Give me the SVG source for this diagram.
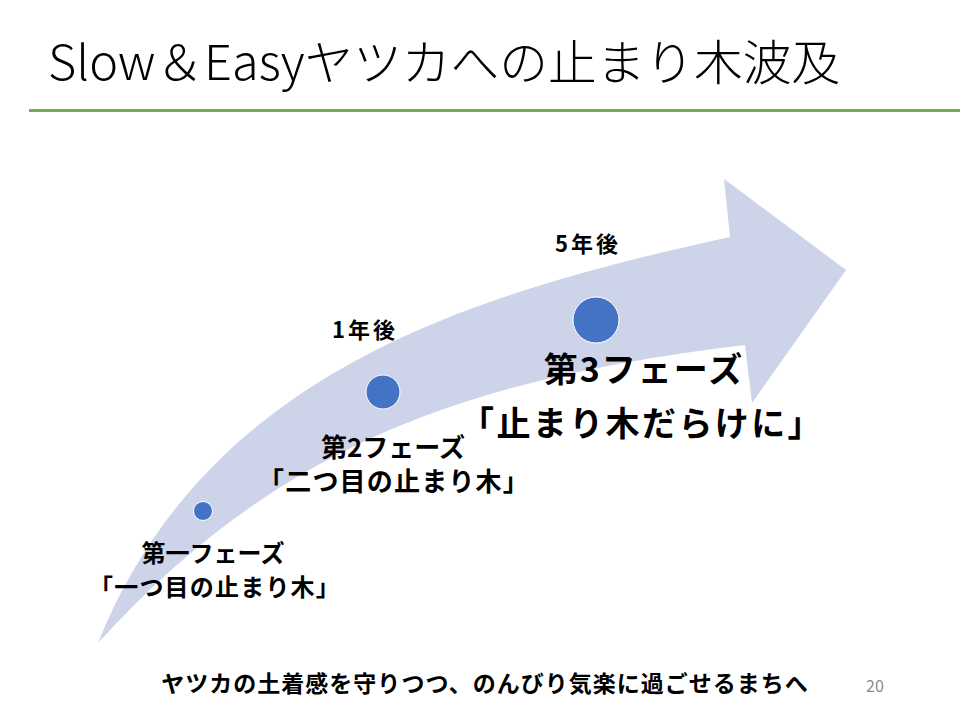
<svg xmlns="http://www.w3.org/2000/svg" width="960" height="720" viewBox="0 0 960 720">
<style>
.t{font-family:"Noto Sans CJK JP","Noto Sans",sans-serif;fill:#000}
.b{font-weight:700;text-anchor:middle}
.dot{fill:#4472C4;stroke:#fff;stroke-width:1}
</style>
<rect width="960" height="720" fill="#fff"/>
<g id="title">
<text class="t" x="48" y="80" font-size="48" font-weight="300" textLength="792" lengthAdjust="spacingAndGlyphs">Slow＆Easyヤツカへの止まり木波及</text>
<rect x="29" y="109" width="931" height="3" fill="#70AD47"/>
</g>
<g id="connectors">
<path id="arrow" d="M98,643 C208,368 480,292 730,237 L724,179 L846,270 L752,403 L745,345 C465,379 278,445 98,643 Z" fill="#CDD4EA"/>
</g>
<g id="phase1">
<circle class="dot" cx="203" cy="511" r="9.5"/>
<text class="t b" x="213" y="562" font-size="24">第一フェーズ</text>
<text class="t b" x="215" y="596" font-size="24" letter-spacing="1.2">「一つ目の止まり木」</text>
</g>
<g id="phase2">
<circle class="dot" cx="383" cy="392" r="17"/>
<text class="t b" x="365" y="338" font-size="22" letter-spacing="3">1年後</text>
<text class="t b" x="393" y="457" font-size="26">第2フェーズ</text>
<text class="t b" x="394" y="491" font-size="26" letter-spacing="1.2">「二つ目の止まり木」</text>
</g>
<g id="phase3">
<circle class="dot" cx="596" cy="320" r="23"/>
<text class="t b" x="588" y="252" font-size="22" letter-spacing="3">5年後</text>
<text class="t b" x="644" y="382" font-size="34" letter-spacing="2">第3フェーズ</text>
<text class="t b" x="642" y="436" font-size="34" letter-spacing="2.4">「止まり木だらけに」</text>
</g>
<g id="footer">
<text class="t b" x="485" y="692" font-size="23" letter-spacing="1">ヤツカの土着感を守りつつ、のんびり気楽に過ごせるまちへ</text>
<text class="t" x="875" y="692" font-size="16" style="fill:#8C8C8C" text-anchor="middle">20</text>
</g>
</svg>
